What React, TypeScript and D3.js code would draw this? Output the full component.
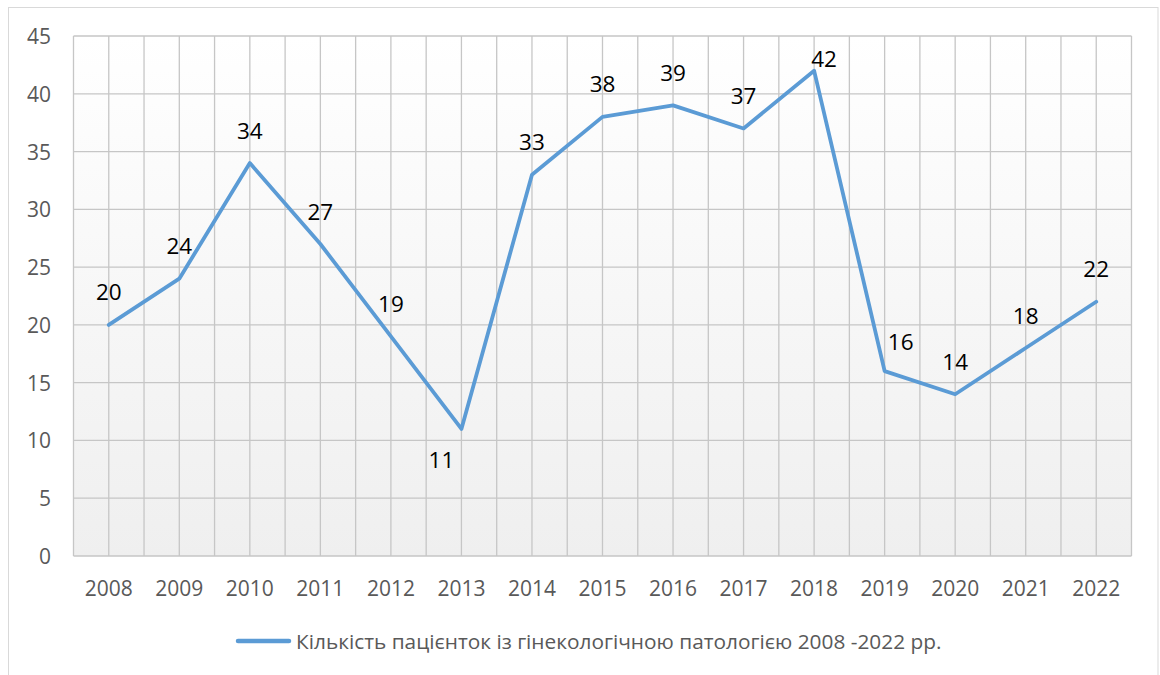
import React, { useEffect, useRef } from "react";
import * as d3 from "d3";

const years = ["2008","2009","2010","2011","2012","2013","2014","2015","2016","2017","2018","2019","2020","2021","2022"];
const patients = [20, 24, 34, 27, 19, 11, 33, 38, 39, 37, 42, 16, 14, 18, 22];
const yTicks = [0, 5, 10, 15, 20, 25, 30, 35, 40, 45];
const seriesName = "Кількість пацієнток із гінекологічною патологією 2008 -2022 рр.";
// label placement tweaks (px) per year, default is centered above the point
const labelShift: Record<string, [number, number]> = {
  "2013": [-20, 64],
  "2018": [10, 21],
  "2019": [16, 3],
};

const W = 1160, H = 675;
const M = { left: 73.5, right: 1131.5, top: 36, bottom: 556 };
const FONT = "'Open Sans', 'Noto Sans', sans-serif";

export default function App() {
  const ref = useRef<SVGSVGElement>(null);
  useEffect(() => {
    const svg = d3.select(ref.current);
    svg.selectAll("*").remove();

    const x = d3.scaleBand<string>().domain(years).range([M.left, M.right]);
    const y = d3.scaleLinear().domain([0, 45]).range([M.bottom, M.top]);
    const cx = (d: string) => (x(d) as number) + x.bandwidth() / 2;

    const defs = svg.append("defs");
    const grad = defs.append("linearGradient").attr("id", "bg").attr("x1", 0).attr("y1", 0).attr("x2", 0).attr("y2", 1);
    grad.append("stop").attr("offset", "0%").attr("stop-color", "#ffffff");
    grad.append("stop").attr("offset", "100%").attr("stop-color", "#efefef");

    // chart border
    svg.append("rect").attr("x", 8.5).attr("y", 7.5).attr("width", 1149.5).attr("height", 700)
      .attr("fill", "#fff").attr("stroke", "#d9d9d9").attr("stroke-width", 1);

    svg.append("rect").attr("x", M.left).attr("y", M.top).attr("width", M.right - M.left).attr("height", M.bottom - M.top)
      .attr("fill", "url(#bg)");

    const grid = svg.append("g").attr("stroke", "#c6c6c6").attr("stroke-width", 1.3).attr("fill", "none");
    // vertical gridlines at band edges and centers
    const vx: number[] = [];
    years.forEach((d) => { vx.push(x(d) as number); vx.push(cx(d)); });
    vx.push(M.right);
    grid.selectAll("line.v").data(vx).join("line")
      .attr("x1", (d) => d).attr("x2", (d) => d).attr("y1", M.top).attr("y2", M.bottom);
    grid.selectAll("line.h").data(yTicks).join("line").attr("class", "h")
      .attr("x1", M.left).attr("x2", M.right).attr("y1", (d) => y(d)).attr("y2", (d) => y(d));

    // y tick labels
    svg.append("g").selectAll("text").data(yTicks).join("text")
      .attr("x", 51).attr("y", (d) => y(d)).attr("text-anchor", "end").attr("dominant-baseline", "central")
      .attr("font-family", FONT).attr("font-size", 21).attr("fill", "#595959").text((d) => d);

    // x tick labels
    svg.append("g").selectAll("text").data(years).join("text")
      .attr("x", (d) => cx(d)).attr("y", 588).attr("text-anchor", "middle").attr("dominant-baseline", "central")
      .attr("font-family", FONT).attr("font-size", 21).attr("fill", "#595959").text((d) => d);

    // line
    const line = d3.line<number>().x((_, i) => cx(years[i])).y((d) => y(d));
    svg.append("path").datum(patients).attr("d", line).attr("fill", "none")
      .attr("stroke", "#5b9bd5").attr("stroke-width", 3.8).attr("stroke-linejoin", "round").attr("stroke-linecap", "round");

    // data labels
    svg.append("g").selectAll("text").data(patients).join("text")
      .attr("x", (d, i) => cx(years[i]) + (labelShift[years[i]]?.[0] ?? 0))
      .attr("y", (d, i) => y(d) - 33 + (labelShift[years[i]]?.[1] ?? 0))
      .attr("text-anchor", "middle").attr("dominant-baseline", "central")
      .attr("font-family", FONT).attr("font-size", 22.5).attr("fill", "#000").text((d) => d);

    // legend
    svg.append("line").attr("x1", 238).attr("x2", 289).attr("y1", 641).attr("y2", 641)
      .attr("stroke", "#5b9bd5").attr("stroke-width", 4.5).attr("stroke-linecap", "round");
    const lt = svg.append("text").attr("x", 296).attr("y", 641).attr("dominant-baseline", "central")
      .attr("font-family", FONT).attr("font-size", 21).attr("fill", "#595959").text(seriesName);
    const node = lt.node() as SVGTextElement;
    const len = node.getComputedTextLength();
    if (len > 0) lt.attr("font-size", 21 * 646 / len);
  }, []);

  return <svg ref={ref} width={W} height={H} style={{ position: "absolute", left: 0, top: 0 }} />;
}
